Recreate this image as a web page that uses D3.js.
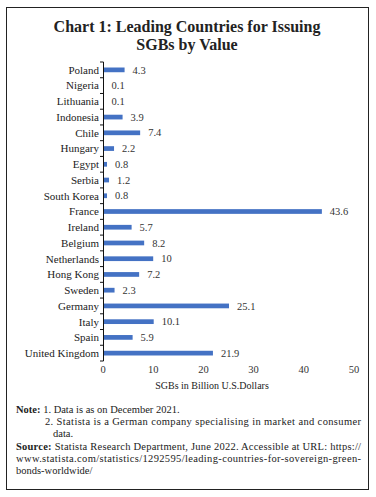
<!DOCTYPE html>
<html>
<head>
<meta charset="utf-8">
<script src="https://cdn.jsdelivr.net/npm/d3@7"></script>
<style>
  body { margin: 0; background: #fff; }
  svg { display: block; font-family: "Liberation Serif", "DejaVu Serif", serif; }
</style>
</head>
<body>
<div id="chart"></div>
<script>
const countries = ['Poland', 'Nigeria', 'Lithuania', 'Indonesia', 'Chile', 'Hungary', 'Egypt', 'Serbia',
  'South Korea', 'France', 'Ireland', 'Belgium', 'Netherlands', 'Hong Kong', 'Sweden', 'Germany',
  'Italy', 'Spain', 'United Kingdom'];
const values = [4.3, 0.1, 0.1, 3.9, 7.4, 2.2, 0.8, 1.2, 0.8, 43.6, 5.7, 8.2, 10, 7.2, 2.3, 25.1, 10.1, 5.9, 21.9];
const xTicks = [0, 10, 20, 30, 40, 50];
const titleLines = ['Chart 1: Leading Countries for Issuing', 'SGBs by Value'];

const width = 376;
const height = 497;
const barColor = '#4472c4';

const svg = d3.select('#chart').append('svg')
  .attr('width', width)
  .attr('height', height);

// outer frame
svg.append('rect')
  .attr('x', 6.5).attr('y', 7.5)
  .attr('width', 362).attr('height', 482)
  .attr('fill', 'none')
  .attr('stroke', '#222')
  .attr('stroke-width', 1);

// title, one text per line
svg.selectAll('text.title')
  .data(titleLines)
  .enter()
  .append('text')
  .attr('class', 'title')
  .attr('x', 187)
  .attr('y', (d, i) => 32 + i * 17.5)
  .attr('text-anchor', 'middle')
  .attr('font-weight', 'bold')
  .attr('font-size', '16px')
  .attr('fill', '#222')
  .text(d => d);

const x = d3.scaleLinear().domain([0, 50]).range([103, 354]);
const y = d3.scaleBand().domain(countries).range([62, 361]).paddingInner(0.7).paddingOuter(0.35);

// bars
svg.selectAll('rect.bar')
  .data(countries)
  .enter()
  .append('rect')
  .attr('class', 'bar')
  .attr('x', x(0))
  .attr('y', d => y(d))
  .attr('width', (d, i) => x(values[i]) - x(0))
  .attr('height', y.bandwidth())
  .attr('fill', barColor);

// value labels
svg.selectAll('text.val')
  .data(countries)
  .enter()
  .append('text')
  .attr('class', 'val')
  .attr('x', (d, i) => x(values[i]) + 8)
  .attr('y', d => y(d) + y.bandwidth() / 2)
  .attr('dy', '0.35em')
  .attr('font-size', '10.5px')
  .attr('fill', '#333')
  .text((d, i) => values[i]);

// y axis: line with boundary ticks
const yAxis = svg.append('g');
yAxis.append('line')
  .attr('x1', 103.5).attr('x2', 103.5)
  .attr('y1', 62).attr('y2', 361)
  .attr('stroke', '#111');
const step = y.step();
yAxis.selectAll('line.tick')
  .data(d3.range(countries.length + 1))
  .enter()
  .append('line')
  .attr('class', 'tick')
  .attr('x1', 100).attr('x2', 103.5)
  .attr('y1', i => 62 + i * step)
  .attr('y2', i => 62 + i * step)
  .attr('stroke', '#111');
yAxis.selectAll('text')
  .data(countries)
  .enter()
  .append('text')
  .attr('x', 99)
  .attr('y', d => y(d) + y.bandwidth() / 2)
  .attr('dy', '0.35em')
  .attr('text-anchor', 'end')
  .attr('font-size', '11px')
  .attr('fill', '#222')
  .text(d => d);

// x axis labels (no axis line)
svg.selectAll('text.xt')
  .data(xTicks)
  .enter()
  .append('text')
  .attr('class', 'xt')
  .attr('x', d => x(d))
  .attr('y', 373)
  .attr('text-anchor', 'middle')
  .attr('font-size', '10.5px')
  .attr('fill', '#333')
  .text(d => d);

svg.append('text')
  .attr('x', 212)
  .attr('y', 389)
  .attr('text-anchor', 'middle')
  .attr('font-size', '10px')
  .attr('fill', '#222')
  .text('SGBs in Billion U.S.Dollars');

// notes
const notes = svg.append('g').attr('font-size', '10.5px').attr('fill', '#222');
function noteLine(xPos, yPos, parts, fullWidth) {
  const t = notes.append('text').attr('x', xPos).attr('y', yPos);
  parts.forEach(p => {
    t.append('tspan').attr('font-weight', p.bold ? 'bold' : null).text(p.text);
  });
  if (fullWidth) t.attr('textLength', fullWidth).attr('lengthAdjust', 'spacing');
  return t;
}
noteLine(16, 413, [{ text: 'Note: ', bold: true }, { text: '1. Data is as on December 2021.' }]);
noteLine(45, 425, [{ text: '2. Statista is a German company specialising in market and consumer' }], 316);
noteLine(53, 437, [{ text: 'data.' }]);
noteLine(16, 450, [{ text: 'Source: ', bold: true }, { text: 'Statista Research Department, June 2022. Accessible at URL: https://' }], 345);
noteLine(16, 462, [{ text: 'www.statista.com/statistics/1292595/leading-countries-for-sovereign-green-' }], 345);
noteLine(16, 474, [{ text: 'bonds-worldwide/' }]);
</script>
</body>
</html>
